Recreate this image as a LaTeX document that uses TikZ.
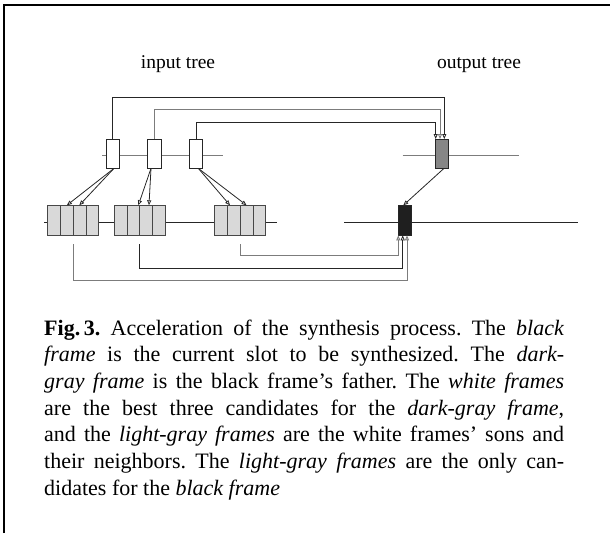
\documentclass[tikz,border=0pt]{standalone}
\usepackage{fontspec}
\setmainfont{Liberation Serif}
\usetikzlibrary{arrows.meta,calc}
\definecolor{lgray}{HTML}{D9D9D9}
\definecolor{dgray}{HTML}{868686}
\definecolor{linegray}{HTML}{7C7C7C}
\definecolor{linedark}{HTML}{262626}
\begin{document}
\begin{tikzpicture}[x=1pt,y=-1pt,
  frame/.style={draw=linedark, line width=0.8pt, minimum width=13.3pt, minimum height=29.3pt, inner sep=0pt, outer sep=0pt},
  wframe/.style={frame, fill=white},
  cell/.style={draw=linedark!85, line width=0.8pt, fill=lgray, minimum width=12.75pt, minimum height=30pt, inner sep=0pt, outer sep=0pt},
  dk/.style={draw=linedark, line width=0.8pt},
  gr/.style={draw=linegray, line width=0.9pt},
  tip/.style={-{Triangle[open,length=5pt,width=4pt]}},
  lbl/.style={font=\fontsize{19.5}{23}\selectfont, inner sep=0pt},
  capt/.style={anchor=north west, inner sep=0pt, text width=520pt, align=justify, font=\fontsize{22}{26.7}\selectfont}
]
\useasboundingbox (0,0) rectangle (610,533);
\draw[line width=1.8pt, line join=miter] (4,533) -- (4,5) -- (610,5);

\node[lbl, anchor=base] (in) at (178,68) {input tree};
\node[lbl, anchor=base] (out) at (479,68) {output tree};

% tree lines
\draw[gr] (102.3,155.7) -- (222.7,155.7);
\draw[dk] (44,222.3) -- (277.3,222.3);
\draw[gr] (402.7,155.7) -- (519.3,155.7);
\draw[dk] (344.3,222.3) -- (577.7,222.3);

% frames
\node[wframe] (w1) at (112.7,153.7) {};
\node[wframe] (w2) at (154.3,153.7) {};
\node[wframe] (w3) at (196,153.7) {};
\node[frame, fill=dgray] (dg) at (442.2,153.7) {};
\node[frame, fill=black!88, minimum height=30pt] (bk) at (404.7,220.3) {};

\foreach \g/\x in {1/47.7, 2/114.3, 3/214.7}
  \foreach \i in {1,...,4}
    \node[cell] (g\g-\i) at ({\x+(\i-0.5)*12.75},220.3) {};

% top connectors
\coordinate (t1) at (0,97.3);
\coordinate (t2) at (0,109.3);
\coordinate (t3) at (0,122.3);
\draw[dk,tip] (w1.north) -- (w1.north |- t1) -| ([xshift=2.1pt]dg.north);
\draw[gr,tip] (w2.north) -- (w2.north |- t2) -| ([xshift=-2.2pt]dg.north);
\draw[dk,tip] (w3.north) -- (w3.north |- t3) -| ([xshift=-6.5pt]dg.north);

% sons arrows
\draw[dk,tip] ([xshift=1.3pt]w1.south) -- (g1-2.north);
\draw[dk,tip] ([xshift=1.3pt]w1.south) -- ([xshift=-0.3pt]g1-3.north);
\draw[dk,tip] ([xshift=-3.3pt]w2.south) -- ([xshift=4.9pt]g2-2.north);
\draw[dk,tip] ([xshift=-3.3pt]w2.south) -- ([xshift=2.8pt]g2-3.north);
\draw[dk,tip] ([xshift=2.3pt]w3.south) -- ([xshift=-3.8pt]g3-2.north);
\draw[dk,tip] ([xshift=2.3pt]w3.south) -- (g3-3.north);

% father to current
\draw[dk,tip] ([xshift=1.8pt]dg.south) -- ([xshift=-1.4pt]bk.north);

% bottom connectors
\coordinate (b1) at ([yshift=-9pt]g1-2.south east);
\coordinate (b2) at ([yshift=-9pt]g2-2.south east);
\coordinate (b3) at ([yshift=-9pt]g3-2.south east);
\coordinate (u1) at (0,280.7);
\coordinate (u2) at (0,268.3);
\coordinate (u3) at (0,255.7);
\draw[gr,tip] (b1) -- (b1 |- u1) -| ([xshift=2.3pt]bk.south);
\draw[dk,tip] (b2) -- (b2 |- u2) -| ([xshift=-2pt]bk.south);
\draw[gr,tip] (b3) -- (b3 |- u3) -| ([xshift=-6.4pt]bk.south);

\node[capt] (cap) at (44,319.5) {\frenchspacing\textbf{Fig.\,3.} Acceleration of the synthesis process. The \textit{black}\linebreak
\textit{frame} is the current slot to be synthesized. The \textit{dark-}\linebreak
\textit{gray frame} is the black frame’s father. The \textit{white frames}\linebreak
are the best three candidates for the \textit{dark-gray frame},\linebreak
and the \textit{light-gray frames} are the white frames’ sons and\linebreak
their neighbors. The \textit{light-gray frames} are the only can-\linebreak
didates for the \textit{black frame}};
\end{tikzpicture}
\end{document}
